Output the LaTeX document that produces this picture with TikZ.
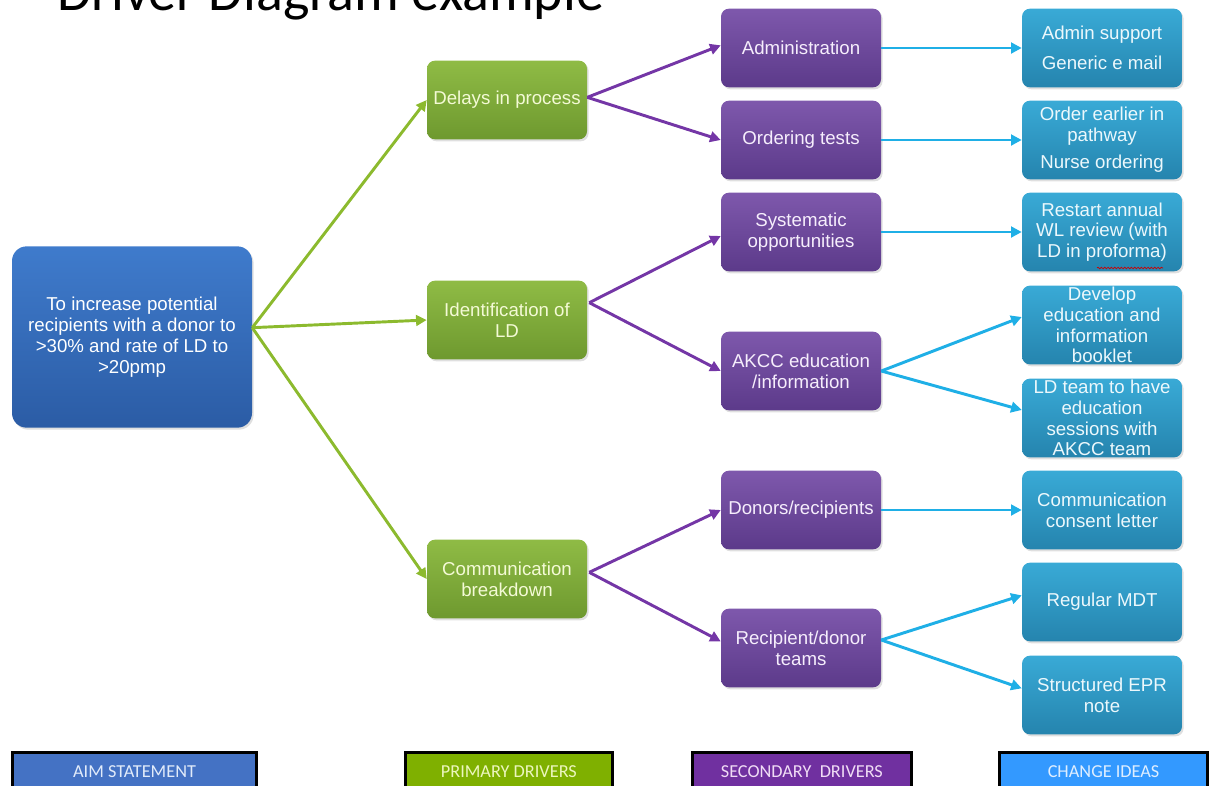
\documentclass[tikz,border=0pt]{standalone}
\usepackage{fontspec}
\setmainfont{Liberation Sans}
\newfontfamily\calib{Carlito}
\usetikzlibrary{arrows.meta,shadows,decorations.pathmorphing}
\definecolor{aimT}{HTML}{3F7BCC}
\definecolor{aimB}{HTML}{2B5CA5}
\definecolor{priT}{HTML}{8FBB45}
\definecolor{priB}{HTML}{6E992F}
\definecolor{secT}{HTML}{7E58AC}
\definecolor{secB}{HTML}{5C3A8A}
\definecolor{chgT}{HTML}{39AAD6}
\definecolor{chgB}{HTML}{2584AE}
\definecolor{lnG}{HTML}{8CBA2E}
\definecolor{lnP}{HTML}{7436A6}
\definecolor{lnB}{HTML}{1FAFE6}
\definecolor{lgA}{HTML}{4472C4}
\definecolor{lgP}{HTML}{7FB000}
\definecolor{lgS}{HTML}{7030A0}
\definecolor{lgC}{HTML}{3399FF}
\tikzset{
  box/.style={rounded corners=6pt, minimum width=120pt, minimum height=59pt, align=center,
    inner sep=1pt, font=\fontsize{14}{15.6}\selectfont,
    drop shadow={opacity=0.25, shadow xshift=1.2pt, shadow yshift=-1.5pt}},
  aimbox/.style={box, rounded corners=11pt, minimum width=180pt, minimum height=136pt, top color=aimT, bottom color=aimB, text=white},
  pribox/.style={box, top color=priT, bottom color=priB, text={rgb,255:red,244;green,250;blue,214}},
  secbox/.style={box, top color=secT, bottom color=secB, text={rgb,255:red,246;green,238;blue,252}},
  chgbox/.style={box, top color=chgT, bottom color=chgB, text={rgb,255:red,236;green,248;blue,252}},
  conn/.style={line width=2.2pt, -{Triangle[length=8pt,width=8pt]}},
  gconn/.style={conn, draw=lnG},
  pconn/.style={conn, draw=lnP},
  bconn/.style={conn, draw=lnB},
  legend/.style={draw=black, line width=2.3pt, minimum height=28pt, inner sep=0pt, anchor=north west,
    font=\calib\fontsize{13.7}{15}\selectfont, text depth=0pt}
}
\begin{document}
\begin{tikzpicture}[x=0.75pt,y=-0.75pt]
\useasboundingbox (0,0) rectangle (1212,785);
\clip (0,0) rectangle (1212,785);
% title (cut by the top edge)
\node[anchor=base west, inner sep=0pt, font=\calib\fontsize{42}{46}\selectfont] (title) at (57,11) {Driver Diagram example};
% aim
\node[aimbox] (aim) at (132,337) {To increase potential\\recipients with a donor to\\>30\% and rate of LD to\\>20pmp};
% primary
\node[pribox] (p1) at (507,100) {Delays in process};
\node[pribox] (p2) at (507,320) {Identification of\\LD};
\node[pribox] (p3) at (507,579) {Communication\\breakdown};
% secondary
\node[secbox] (s1) at (801,48) {Administration};
\node[secbox] (s2) at (801,140) {Ordering tests};
\node[secbox] (s3) at (801,232) {Systematic\\opportunities};
\node[secbox] (s4) at (801,371) {AKCC education\\/information};
\node[secbox] (s5) at (801,510) {Donors/recipients};
\node[secbox] (s6) at (801,648) {Recipient/donor\\teams};
% change ideas
\node[chgbox, font=\fontsize{14}{22.5}\selectfont] (c1) at (1102,48) {Admin support\\Generic e mail};
\node[chgbox] (c2) at (1102,140) {Order earlier in\\pathway\\[5pt]Nurse ordering};
\node[chgbox] (c3) at (1102,232) {Restart annual\\WL review (with\\LD in proforma)};
\node[chgbox] (c4) at (1102,325) {Develop\\education and\\information\\booklet};
\node[chgbox] (c5) at (1102,418) {LD team to have\\education\\sessions with\\AKCC team};
\node[chgbox] (c6) at (1102,510) {Communication\\consent letter};
\node[chgbox] (c7) at (1102,602) {Regular MDT};
\node[chgbox] (c8) at (1102,695) {Structured EPR\\note};
% spell-check underline under "proforma"
\draw[red!80!black, line width=0.5pt, decorate, decoration={snake, amplitude=0.6pt, segment length=2.5pt}] (1097,268) -- (1163,268);
% connectors
\coordinate (aout) at ([yshift=7pt]aim.east);
\draw[gconn] (aout) -- (p1.west);
\draw[gconn] (aout) -- (p2.west);
\draw[gconn] (aout) -- (p3.west);
\coordinate (p1o) at ([yshift=2pt]p1.east);
\coordinate (p2o) at ([yshift=13pt,xshift=1.5pt]p2.east);
\coordinate (p3o) at ([yshift=5pt,xshift=1.5pt]p3.east);
\draw[pconn] (p1o) -- ([yshift=2pt]s1.west);
\draw[pconn] (p1o) -- (s2.west);
\draw[pconn] (p2o) -- ([yshift=-3pt]s3.west);
\draw[pconn] (p2o) -- (s4.west);
\draw[pconn] (p3o) -- (s5.west);
\draw[pconn] (p3o) -- ([yshift=5pt]s6.west);
\draw[bconn] (s1.east) -- (c1.west);
\draw[bconn] (s2.east) -- (c2.west);
\draw[bconn] (s3.east) -- (c3.west);
\draw[bconn] (s4.east) -- ([yshift=6pt]c4.west);
\draw[bconn] (s4.east) -- ([yshift=6pt]c5.west);
\draw[bconn] (s5.east) -- (c6.west);
\draw[bconn] ([yshift=6pt]s6.east) -- ([yshift=5pt]c7.west);
\draw[bconn] ([yshift=6pt]s6.east) -- ([yshift=5pt]c8.west);
% legend
\node[legend, fill=lgA, minimum width=183pt, text={rgb,255:red,225;green,235;blue,250}] (lA) at (11,751) {AIM STATEMENT};
\node[legend, fill=lgP, minimum width=155pt, text={rgb,255:red,236;green,246;blue,190}] (lP) at (404,751) {PRIMARY DRIVERS};
\node[legend, fill=lgS, minimum width=164pt, text={rgb,255:red,240;green,220;blue,245}] (lS) at (691,751) {SECONDARY\ \ DRIVERS};
\node[legend, fill=lgC, minimum width=156pt, text={rgb,255:red,222;green,238;blue,255}] (lC) at (998,751) {CHANGE IDEAS};
\end{tikzpicture}
\end{document}
